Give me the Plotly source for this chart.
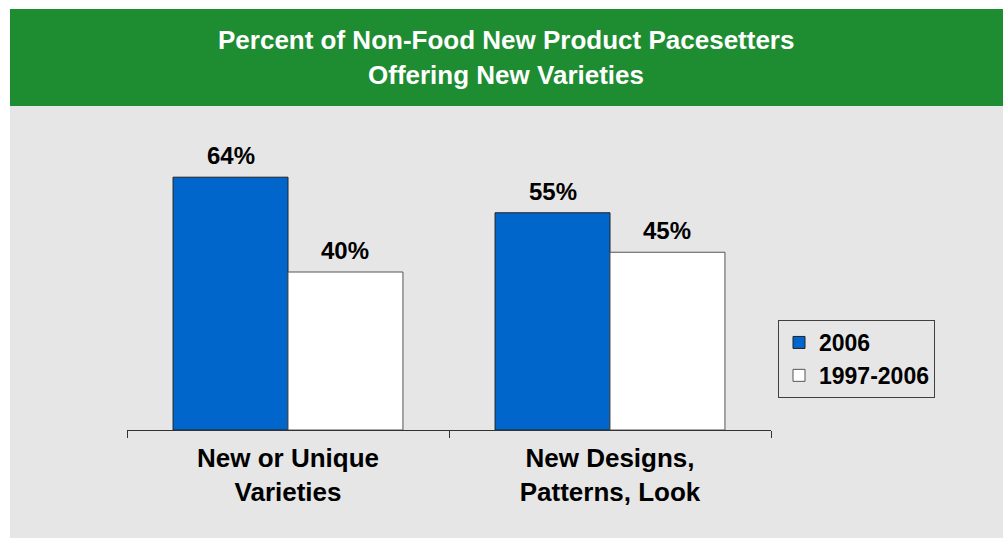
import plotly.graph_objects as go

# Chart data
categories = ["New or Unique<br>Varieties", "New Designs,<br>Patterns, Look"]
series_names = ["2006", "1997-2006"]
values_2006 = [64, 55]
values_1997_2006 = [40, 45]

W, H = 1003, 538
M_L, M_R, M_T, M_B = 127, 232, 114, 108
PLOT_W = W - M_L - M_R
PLOT_H = H - M_T - M_B

GREEN = "#1E8C31"
GRAY = "#E6E6E6"
BLUE = "#0066CC"
FONT = "Liberation Sans, Arial, sans-serif"


def px_x(x):
    return (x - M_L) / PLOT_W


def px_y(y):
    return (H - M_B - y) / PLOT_H


fig = go.Figure()
fig.add_trace(go.Bar(
    name=f"<b>{series_names[0]}</b>", x=categories, y=values_2006,
    marker=dict(color=BLUE, line=dict(color="#222222", width=1)),
))
fig.add_trace(go.Bar(
    name=f"<b>{series_names[1]}</b>", x=categories, y=values_1997_2006,
    marker=dict(color="#FFFFFF", line=dict(color="#555555", width=1)),
))

# value labels above each bar
bar_w = PLOT_W / 2 * (1 - 0.286) / 2
annotations = []
for vals, shift in ((values_2006, -bar_w / 2), (values_1997_2006, bar_w / 2)):
    for cat, v in zip(categories, vals):
        annotations.append(dict(
            x=cat, y=v, xref="x", yref="y", text=f"<b>{v}%</b>",
            showarrow=False, xshift=shift, yanchor="bottom", yshift=6,
            font=dict(family=FONT, size=24, color="#000000"),
        ))

# two-line header
for txt, yc in (("Percent of Non-Food New Product Pacesetters", 40),
                ("Offering New Varieties", 75)):
    annotations.append(dict(
        x=px_x(506), y=px_y(yc), xref="paper", yref="paper",
        text=f"<b>{txt}</b>", showarrow=False, xanchor="center", yanchor="middle",
        font=dict(family=FONT, size=26, color="#FFFFFF"),
    ))

shapes = [
    dict(type="rect", xref="paper", yref="paper", layer="below",
         x0=px_x(10), x1=px_x(W + 5), y0=px_y(106), y1=px_y(H + 5),
         fillcolor=GRAY, line=dict(width=0)),
    dict(type="rect", xref="paper", yref="paper", layer="below",
         x0=px_x(10), x1=px_x(W + 5), y0=px_y(9), y1=px_y(106),
         fillcolor=GREEN, line=dict(width=0)),
]

fig.update_layout(
    width=W, height=H,
    margin=dict(l=M_L, r=M_R, t=M_T, b=M_B, pad=0),
    paper_bgcolor="#FFFFFF", plot_bgcolor=GRAY,
    barmode="group", bargap=0.286, bargroupgap=0,
    font=dict(family=FONT, color="#000000"),
    showlegend=True,
    legend=dict(
        x=px_x(778), y=px_y(320), xanchor="left", yanchor="top",
        xref="paper", yref="paper",
        bgcolor=GRAY, bordercolor="#404040", borderwidth=1,
        font=dict(family=FONT, size=23, color="#000000"),
        itemwidth=30, tracegroupgap=0, traceorder="normal",
    ),
    annotations=annotations,
    shapes=shapes,
    xaxis=dict(
        showline=True, linecolor="#333333", linewidth=1,
        ticks="outside", tickson="boundaries", ticklen=7, tickcolor="#333333",
        showgrid=False, zeroline=False,
        tickfont=dict(family=FONT, size=26, color="#000000"),
        ticklabelstandoff=5,
    ),
    yaxis=dict(
        range=[0, PLOT_H / 3.95], visible=False, showgrid=False, zeroline=False,
        fixedrange=True,
    ),
)
fig.update_xaxes(tickprefix="<b>", ticksuffix="</b>")

fig.write_html("out.html")
